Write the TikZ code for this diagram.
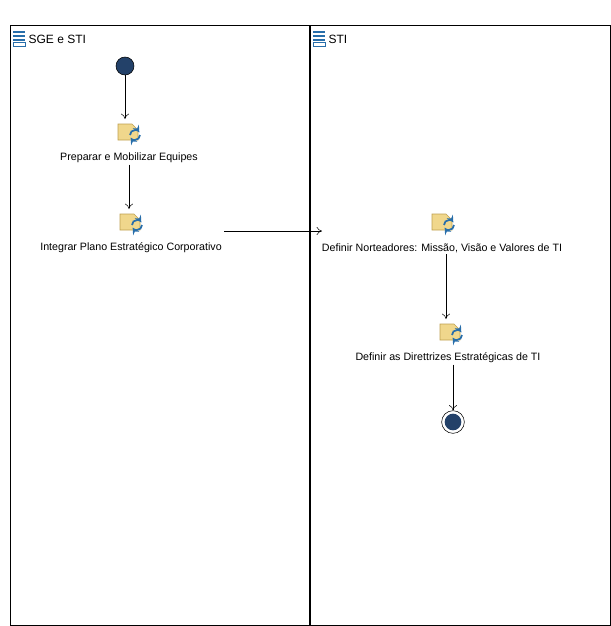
\documentclass[tikz,border=0pt]{standalone}
\usepackage{fontspec}
\setmainfont{Liberation Sans}
\usetikzlibrary{arrows,arrows.meta,positioning,calc}
\definecolor{taskfill}{RGB}{240,215,140}
\definecolor{taskline}{RGB}{190,160,80}
\definecolor{loopblue}{RGB}{40,110,170}
\definecolor{dotblue}{RGB}{35,65,105}
\newcommand{\taskicon}[1]{%
  \fill[taskfill,draw=taskline] ($(#1)+(-10,-8)$) -- ++(14,0) -- ++(6,6) -- ++(0,10) -- ++(-20,0) -- cycle;
  \draw[loopblue,line width=1.3pt,-stealth] ($(#1)+(12,3)$) arc (0:150:5);
  \draw[loopblue,line width=1.3pt,-stealth] ($(#1)+(2,3)$) arc (180:330:5);
}
\begin{document}
\begin{tikzpicture}[x=0.75pt,y=-0.75pt,font=\fontsize{8}{10}\selectfont]
		\tikzstyle {flow} = [-{To[length=4pt,width=6pt]}]
		\tikzstyle {tasklabel} = [inner sep=1pt]
		\tikzstyle {lane} = [line width=0.6pt]

		\useasboundingbox (0,0) rectangle (611,626);
		\draw[lane] (10,25) rectangle (610,625);
		\draw[line width=1.3pt] (310,25) -- (310,625);

		% lane headers
		\foreach \hx/\htext in {19/SGE e STI, 319/STI} {
			\foreach \dy in {-6,-2,2} \draw[loopblue,line width=0.8pt] (\hx-6,38+\dy) -- (\hx+6,38+\dy);
			\draw[loopblue,line width=0.6pt] (\hx-6,42) rectangle (\hx+6,46);
			\node[anchor=west,tasklabel,font=\fontsize{9}{11}\selectfont] at (\hx+8,39) {\htext};
		}

		% start and end
		\node[circle,fill=dotblue,draw=black,minimum size=13.5pt,inner sep=0] (start) at (125,66) {};
		\node[circle,draw=black,minimum size=17pt,inner sep=0] (end) at (453,422) {};
		\node[circle,fill=dotblue,minimum size=12.5pt,inner sep=0] at (end) {};

		% tasks
		\coordinate (i1) at (128,132);
		\coordinate (i2) at (130,222);
		\coordinate (i3) at (442,222);
		\coordinate (i4) at (450,332);
		\taskicon{i1} \taskicon{i2} \taskicon{i3} \taskicon{i4}
		\node[tasklabel] (prep) at (129,158) {Preparar e Mobilizar Equipes};
		\node[tasklabel] (integ) at (131,248) {Integrar Plano Estratégico Corporativo};
		\node[tasklabel] (nort) at (442,248) {Definir Norteadores: Missão, Visão e Valores de TI};
		\node[tasklabel] (dir) at (448,358) {Definir as Direttrizes Estratégicas de TI};

		\coordinate (t1) at (125,119);
		\coordinate (t2) at (129,209);
		\coordinate (t4) at (446,319);
		\coordinate (t3) at (322,231);
		\coordinate (s2) at (224,231);
		\draw[flow] (start) -- (t1);
		\draw[flow] (prep.south -| t2) -- (t2);
		\draw[flow] (s2) -- (t3);
		\draw[flow] (nort.south -| t4) -- (t4);
		\draw[flow] (dir.south -| end) -- (end);
\end{tikzpicture}
\end{document}
